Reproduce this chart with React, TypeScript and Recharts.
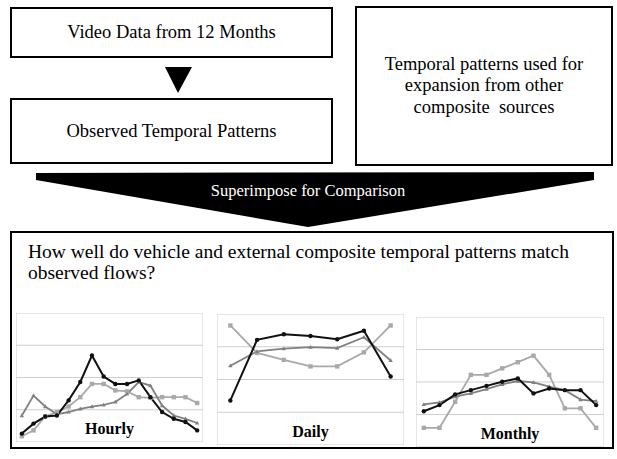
import React from 'react';
import { LineChart, Line, XAxis, YAxis, ReferenceLine, ReferenceArea } from 'recharts';

const hourlyObserved = [0.26, 0.57, 0.79, 0.82, 1.29, 1.86, 2.68, 2.03, 1.8, 1.8, 1.91, 1.39, 0.93, 0.72, 0.62, 0.36];
const hourlyVehicle = [0.82, 1.44, 1.1, 0.86, 0.93, 1.03, 1.1, 1.15, 1.24, 1.49, 1.86, 1.75, 1.13, 0.82, 0.72, 0.59];
const hourlyExternal = [0.18, 0.36, 0.79, 0.93, 1.1, 1.39, 1.8, 1.8, 1.6, 1.57, 1.39, 1.37, 1.39, 1.39, 1.39, 1.21];

const dailyObserved = [1.36, 3.21, 3.38, 3.33, 3.23, 3.49, 2.09];
const dailyVehicle = [2.42, 2.86, 2.94, 2.99, 2.96, 3.29, 2.58];
const dailyExternal = [3.65, 2.81, 2.6, 2.4, 2.4, 2.83, 3.65];

const monthlyObserved = [1.1, 1.29, 1.62, 1.75, 1.88, 2.01, 2.11, 1.65, 1.8, 1.75, 1.75, 1.29];
const monthlyVehicle = [1.31, 1.37, 1.55, 1.65, 1.78, 1.93, 2.03, 1.99, 1.86, 1.75, 1.46, 1.41];
const monthlyExternal = [0.59, 0.59, 1.39, 2.22, 2.22, 2.42, 2.61, 2.81, 2.22, 1.19, 1.19, 0.59];

const gridValues = [1, 2, 3];

const BLACK = '#111111';
const MID = '#808080';
const LIGHT = '#a9a9a9';

const CircleDot = (props: any) => {
  const { cx, cy } = props;
  if (cx == null || cy == null) return null;
  return <circle cx={cx} cy={cy} r={2.2} fill={BLACK} />;
};

const SquareDot = (props: any) => {
  const { cx, cy } = props;
  if (cx == null || cy == null) return null;
  return <rect x={cx - 2.2} y={cy - 2.2} width={4.4} height={4.4} fill={LIGHT} />;
};

const TriDot = (props: any) => {
  const { cx, cy } = props;
  if (cx == null || cy == null) return null;
  return <polygon points={`${cx},${cy - 2.2} ${cx + 2.2},${cy + 1.6} ${cx - 2.2},${cy + 1.6}`} fill={MID} />;
};

interface MiniProps {
  left: number;
  top: number;
  width: number;
  height: number;
  title: string;
  observed: number[];
  vehicle: number[];
  external: number[];
}

const MiniChart: React.FC<MiniProps> = ({ left, top, width, height, title, observed, vehicle, external }) => {
  const data = observed.map((v, i) => ({ i, observed: v, vehicle: vehicle[i], external: external[i] }));
  const n = data.length;
  return (
    <div style={{ position: 'absolute', left, top, width, height }}>
      <LineChart width={width} height={height} data={data} margin={{ top: 0, right: 0, bottom: 0, left: 0 }}>
        <XAxis dataKey="i" type="number" domain={[-0.5, n - 0.5]} hide />
        <YAxis type="number" domain={[0, 4]} hide />
        <ReferenceArea x1={-0.5} x2={n - 0.5} y1={0} y2={4} fill="#fff" fillOpacity={0} stroke="#cfcfcf" strokeWidth={1} />
        {gridValues.map((g) => (
          <ReferenceLine key={g} y={g} stroke="#cfcfcf" strokeWidth={1} />
        ))}
        <Line dataKey="external" stroke={LIGHT} strokeWidth={1.8} dot={<SquareDot />} isAnimationActive={false} />
        <Line dataKey="vehicle" stroke={MID} strokeWidth={1.8} dot={<TriDot />} isAnimationActive={false} />
        <Line dataKey="observed" stroke={BLACK} strokeWidth={2} dot={<CircleDot />} isAnimationActive={false} />
      </LineChart>
      <div
        style={{
          position: 'absolute',
          left: 0,
          width,
          bottom: 4,
          textAlign: 'center',
          fontWeight: 'bold',
          fontSize: 16,
        }}
      >
        {title}
      </div>
    </div>
  );
};

const boxStyle: React.CSSProperties = {
  position: 'absolute',
  border: '2px solid #000',
  boxSizing: 'border-box',
  display: 'flex',
  alignItems: 'center',
  justifyContent: 'center',
  textAlign: 'center',
  fontSize: 18.5,
};

export default function App() {
  return (
    <div
      style={{
        position: 'absolute',
        left: 0,
        top: 0,
        width: 617,
        height: 459,
        background: '#fff',
        fontFamily: '"Liberation Serif", "Times New Roman", serif',
        color: '#000',
      }}
    >
      <div style={{ ...boxStyle, left: 10, top: 7, width: 323, height: 51 }}>Video Data from 12 Months</div>
      <div style={{ ...boxStyle, left: 10, top: 98, width: 323, height: 66 }}>Observed Temporal Patterns</div>
      <div style={{ ...boxStyle, left: 355, top: 6, width: 258, height: 160, lineHeight: '21.5px' }}>
        <div>
          Temporal patterns used for
          <br />
          expansion from other
          <br />
          composite&nbsp; sources
        </div>
      </div>
      <svg width={617} height={459} style={{ position: 'absolute', left: 0, top: 0 }}>
        <polygon points="165,67 192,67 178,93" fill="#000" />
        <polygon points="36,173 594,172 594,180 308,227 36,180" fill="#000" />
        <text x={308} y={196} textAnchor="middle" fill="#fff" fontSize={16.5} fontFamily='"Liberation Serif", serif'>
          Superimpose for Comparison
        </text>
      </svg>
      <div
        style={{
          position: 'absolute',
          left: 10,
          top: 231,
          width: 604,
          height: 218,
          border: '2px solid #000',
          boxSizing: 'border-box',
          fontSize: 19.5,
          lineHeight: '20.5px',
          padding: '9px 0 0 16px',
        }}
      >
        How well do vehicle and external composite temporal patterns match
        <br />
        observed flows?
      </div>
      <MiniChart left={16} top={313} width={187} height={129} title="Hourly" observed={hourlyObserved} vehicle={hourlyVehicle} external={hourlyExternal} />
      <MiniChart left={217} top={314} width={187} height={131} title="Daily" observed={dailyObserved} vehicle={dailyVehicle} external={dailyExternal} />
      <MiniChart left={416} top={317} width={188} height={130} title="Monthly" observed={monthlyObserved} vehicle={monthlyVehicle} external={monthlyExternal} />
    </div>
  );
}
